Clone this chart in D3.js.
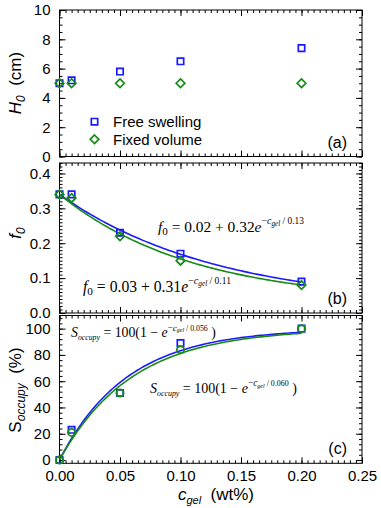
<!DOCTYPE html>
<html><head><meta charset="utf-8">
<script src="https://cdn.jsdelivr.net/npm/d3@7"></script>
<style>body{margin:0;background:#fff}svg{display:block}</style>
</head><body>
<svg id="c" width="381" height="508"></svg>
<script>
// ---- data ----
const cgel = [0, 0.01, 0.05, 0.1, 0.2];
const h0Free = [5.0, 5.2, 5.8, 6.5, 7.4];
const h0Fixed = [5.0, 5.0, 5.0, 5.0, 5.0];
const f0Free = [0.34, 0.34, 0.23, 0.17, 0.09];
const f0Fixed = [0.34, 0.33, 0.22, 0.15, 0.08];
const sFree = [0, 23, 51, 89, 100];
const sFixed = [0, 21, 51, 84, 100];
// fit parameters printed on the chart: f0 = a + b*exp(-c/t) ; S = 100(1-exp(-c/t))
const f0FitFree = [0.02, 0.32, 0.13];
const f0FitFixed = [0.03, 0.31, 0.11];
const sFitFree = [0.056];
const sFitFixed = [0.060];
const xTicks = [0, 0.05, 0.1, 0.15, 0.2, 0.25];
const hTicks = [0, 2, 4, 6, 8, 10];
const fTicks = [0, 0.1, 0.2, 0.3, 0.4];
const sTicks = [0, 20, 40, 60, 80, 100];
const legendLabels = ["Free swelling", "Fixed volume"];

const BLUE = "#1a1aff", GREEN = "#178a17";
const svg = d3.select("#c");
const sans = "'Liberation Sans', Arial, sans-serif";
const serif = "'Liberation Serif', 'Times New Roman', serif";

const x = d3.scaleLinear().domain([0, 0.25]).range([59.5, 362]);
const panels = [
  {y: d3.scaleLinear().domain([0, 10]).range([156.5, 10]), ticks: hTicks, minor: 0.5, fmt: d3.format("d"), tag: "(a)"},
  {y: d3.scaleLinear().domain([0, 0.43]).range([313, 163]), ticks: fTicks, minor: 0.01, fmt: d3.format(".1f"), tag: "(b)"},
  {y: d3.scaleLinear().domain([-2.5, 110]).range([463.3, 315.5]), ticks: sTicks, minor: 4, fmt: d3.format("d"), tag: "(c)"}
];

function range(a, b, s) { const r = []; for (let v = a; v <= b + s * 1e-6; v += s) r.push(+v.toFixed(6)); return r; }
const xMinor = range(0, 0.25, 0.005);

panels.forEach((p, i) => {
  const g = svg.append("g");
  const [y0, y1] = p.y.range();
  const yMinor = range(Math.ceil(p.y.domain()[0] / p.minor) * p.minor, p.y.domain()[1], p.minor);
  g.append("rect").attr("x", x.range()[0]).attr("y", y1).attr("width", x.range()[1] - x.range()[0])
    .attr("height", y0 - y1).attr("fill", "none").attr("stroke", "#000").attr("stroke-width", 1);
  const mk = (axis, tr) => { const a = g.append("g").attr("transform", tr).call(axis);
    a.select(".domain").remove(); a.selectAll("text").attr("font-family", sans).attr("font-size", 15).attr("fill", "#000");
    a.selectAll("line").attr("stroke", "#000"); return a; };
  mk(d3.axisBottom(x).tickValues(xMinor).tickSize(-3).tickFormat(""), `translate(0,${y0})`);
  mk(d3.axisBottom(x).tickValues(xTicks).tickSize(-6).tickPadding(7).tickFormat(i === 2 ? d3.format(".2f") : () => ""), `translate(0,${y0})`);
  mk(d3.axisTop(x).tickValues(xMinor).tickSize(-3).tickFormat(""), `translate(0,${y1})`);
  mk(d3.axisTop(x).tickValues(xTicks).tickSize(-6).tickFormat(""), `translate(0,${y1})`);
  mk(d3.axisLeft(p.y).tickValues(yMinor).tickSize(-3).tickFormat(""), `translate(${x.range()[0]},0)`);
  mk(d3.axisLeft(p.y).tickValues(p.ticks).tickSize(-6).tickPadding(9).tickFormat(p.fmt), `translate(${x.range()[0]},0)`);
  mk(d3.axisRight(p.y).tickValues(yMinor).tickSize(-3).tickFormat(""), `translate(${x.range()[1]},0)`);
  mk(d3.axisRight(p.y).tickValues(p.ticks).tickSize(-6).tickFormat(""), `translate(${x.range()[1]},0)`);
  g.append("text").attr("x", 347).attr("y", y0 - 9).attr("text-anchor", "end")
    .attr("font-family", sans).attr("font-size", 16).text(p.tag);
});

const [pa, pb, pc] = panels;
const cs = range(0, 0.2, 0.002);
function curve(p, fn, color) {
  svg.append("path").datum(cs).attr("fill", "none").attr("stroke", color).attr("stroke-width", 1.6)
    .attr("d", d3.line().x(d => x(d)).y(d => p.y(fn(d))));
}
curve(pb, c => f0FitFree[0] + f0FitFree[1] * Math.exp(-c / f0FitFree[2]), BLUE);
curve(pb, c => f0FitFixed[0] + f0FitFixed[1] * Math.exp(-c / f0FitFixed[2]), GREEN);
curve(pc, c => 100 * (1 - Math.exp(-c / sFitFree[0])), BLUE);
curve(pc, c => 100 * (1 - Math.exp(-c / sFitFixed[0])), GREEN);

const SQ = "M-3.2,-3.2H3.2V3.2H-3.2Z", DM = "M0,-4.3L4.3,0L0,4.3L-4.3,0Z";
function marks(p, vals, d, color) {
  svg.append("g").selectAll("path").data(vals).join("path")
    .attr("transform", (v, i) => `translate(${x(cgel[i])},${p.y(v)})`)
    .attr("d", d).attr("fill", "none").attr("stroke", color).attr("stroke-width", 1.7);
}
function circles(p, vals) {
  svg.append("g").selectAll("circle").data(vals).join("circle")
    .attr("cx", (d, i) => x(cgel[i])).attr("cy", d => p.y(d)).attr("r", 3.6)
    .attr("fill", "none").attr("stroke", GREEN).attr("stroke-width", 1.8);
}
marks(pa, h0Free, SQ, BLUE); marks(pa, h0Fixed, DM, GREEN);
marks(pb, f0Free, SQ, BLUE); marks(pb, f0Fixed, DM, GREEN);
marks(pc, sFree, SQ, BLUE); circles(pc, sFixed);

// legend
const lg = svg.append("g").attr("font-family", sans).attr("font-size", 15);
lg.append("path").attr("transform", "translate(94.5,121.7)").attr("d", SQ).attr("fill", "none").attr("stroke", BLUE).attr("stroke-width", 1.7);
lg.append("path").attr("transform", "translate(94.5,139.3)").attr("d", DM).attr("fill", "none").attr("stroke", GREEN).attr("stroke-width", 1.7);
lg.append("text").attr("x", 113).attr("y", 127).text(legendLabels[0]);
lg.append("text").attr("x", 113).attr("y", 144.5).text(legendLabels[1]);

// rich text; optional target width rescales font sizes to fit that width
function rich(xp, yp, segs, rotate, target) {
  const build = k => {
    const t = svg.append("text").attr("x", xp).attr("y", yp).attr("fill", "#000");
    if (rotate) t.attr("transform", `rotate(-90,${xp},${yp})`).attr("text-anchor", "middle");
    let cur = 0;
    segs.forEach(([s, size, off, it, fam]) => {
      t.append("tspan").attr("dy", (off - cur) * k).attr("font-size", size * k).attr("font-family", fam || serif)
        .attr("font-style", it ? "italic" : "normal").attr("xml:space", "preserve").text(s);
      cur = off;
    });
    return t;
  };
  let t = build(1);
  if (target) {
    const w = t.node().getComputedTextLength();
    if (w > 0) { t.remove(); t = build(target / w); }
  }
  return t;
}
rich(158, 232, [["f", 14, 0, 1], ["0", 10, 3, 0], [" = 0.02 + 0.32", 14, 0, 0], ["e", 14, 0, 1],
  ["−", 9, -7, 0], ["c", 9, -7, 1], ["gel", 6.5, -5, 1], [" / 0.13", 8.5, -7, 0]], false, 146);
rich(83, 292, [["f", 14, 0, 1], ["0", 10, 3, 0], [" = 0.03 + 0.31", 14, 0, 0], ["e", 14, 0, 1],
  ["−", 9, -7, 0], ["c", 9, -7, 1], ["gel", 6.5, -5, 1], [" / 0.11", 8.5, -7, 0]], false, 148);
rich(71, 337, [["S", 15, 0, 1], ["occupy", 8.5, 3, 1], [" = 100(1 − ", 15, 0, 0], ["e", 15, 0, 1],
  ["−", 10, -7, 0], ["c", 10, -7, 1], ["gel", 6.5, -5, 1], [" / 0.056", 8.5, -7, 0], [" )", 15, 0, 0]], false, 145);
rich(150, 393, [["S", 15, 0, 1], ["occupy", 8.5, 3, 1], [" = 100(1 − ", 15, 0, 0], ["e", 15, 0, 1],
  ["−", 10, -7, 0], ["c", 10, -7, 1], ["gel", 6.5, -5, 1], [" / 0.060", 8.5, -7, 0], [" )", 15, 0, 0]], false, 147);

rich(21, 83, [["H", 17, 0, 1, sans], ["0", 12, 4, 1, sans], ["  (cm)", 17, 0, 0, sans]], true);
rich(21, 233, [["f", 17, 0, 1, sans], ["0", 12, 4, 1, sans]], true);
rich(21, 390, [["S", 17, 0, 0, sans], ["occupy", 12, 4, 1, sans], ["  (%)", 17, 0, 0, sans]], true);
rich(216, 500, [["c", 17, 0, 1, sans], ["gel", 11, 4, 1, sans], ["  (wt%)", 17, 0, 0, sans]]).attr("text-anchor", "middle");
</script>
</body></html>
